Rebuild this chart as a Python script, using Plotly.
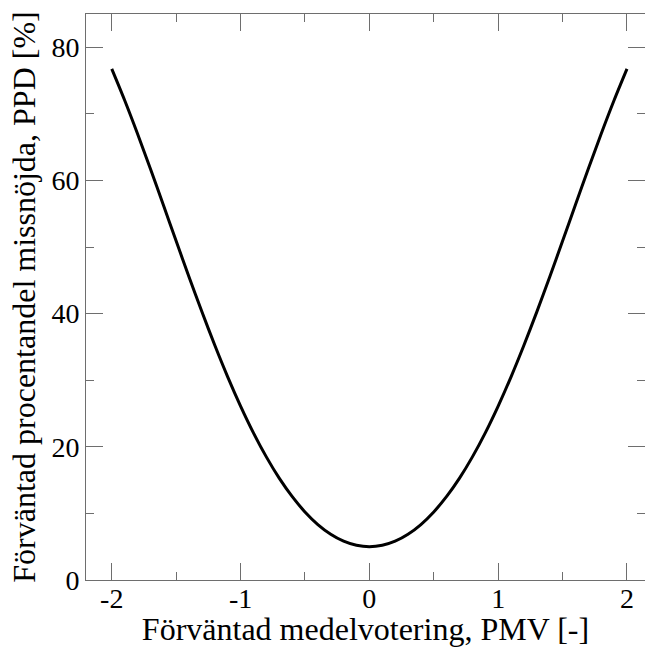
import plotly.graph_objects as go

# Predicted mean vote (PMV) and predicted percentage dissatisfied (PPD, %)
pmv = [-2.0, -1.9, -1.8, -1.7, -1.6, -1.5, -1.4, -1.3, -1.2, -1.1, -1.0,
       -0.9, -0.8, -0.7, -0.6, -0.5, -0.4, -0.3, -0.2, -0.1, 0.0,
       0.1, 0.2, 0.3, 0.4, 0.5, 0.6, 0.7, 0.8, 0.9, 1.0,
       1.1, 1.2, 1.3, 1.4, 1.5, 1.6, 1.7, 1.8, 1.9, 2.0]
ppd = [76.76, 72.05, 67.02, 61.75, 56.35, 50.90, 45.51, 40.27, 35.25, 30.51, 26.12,
       22.10, 18.49, 15.30, 12.55, 10.22, 8.33, 6.87, 5.83, 5.21, 5.00,
       5.21, 5.83, 6.87, 8.33, 10.22, 12.55, 15.30, 18.49, 22.10, 26.12,
       30.51, 35.25, 40.27, 45.51, 50.90, 56.35, 61.75, 67.02, 72.05, 76.76]

x_ticks = [-2, -1, 0, 1, 2]
y_ticks = [0, 20, 40, 60, 80]

font_family = "Liberation Serif, Times New Roman, serif"
axis_gray = "#6e6e6e"

fig = go.Figure()
fig.add_trace(go.Scatter(
    x=pmv, y=ppd, mode="lines",
    line=dict(color="black", width=3, shape="spline", smoothing=0.8),
    showlegend=False, hoverinfo="skip",
))

common_axis = dict(
    showline=True, linecolor=axis_gray, linewidth=1, mirror="allticks",
    ticks="inside", ticklen=17, tickcolor=axis_gray, tickwidth=1,
    showgrid=False, zeroline=False,
    tickfont=dict(family=font_family, size=28, color="black"),
)

fig.update_xaxes(
    range=[-2.2, 2.14], tickvals=x_ticks, ticktext=[str(v) for v in x_ticks],
    minor=dict(ticks="inside", ticklen=8, tickcolor=axis_gray, dtick=0.5, tick0=0, showgrid=False),
    ticklabelstandoff=-7,
    title=dict(text="Förväntad medelvotering, PMV [-]", standoff=6,
               font=dict(family=font_family, size=32, color="black")),
    **common_axis,
)
fig.update_yaxes(
    range=[0, 85], tickvals=y_ticks, ticktext=[str(v) for v in y_ticks],
    minor=dict(ticks="inside", ticklen=8, tickcolor=axis_gray, dtick=10, tick0=0, showgrid=False),
    title=dict(text="Förväntad procentandel missnöjda, PPD [%]", standoff=6,
               font=dict(family=font_family, size=32, color="black")),
    **common_axis,
)

fig.update_layout(
    width=645, height=647,
    margin=dict(l=86, r=0, t=14, b=67),
    paper_bgcolor="white", plot_bgcolor="white",
)

fig.write_html("out.html")
